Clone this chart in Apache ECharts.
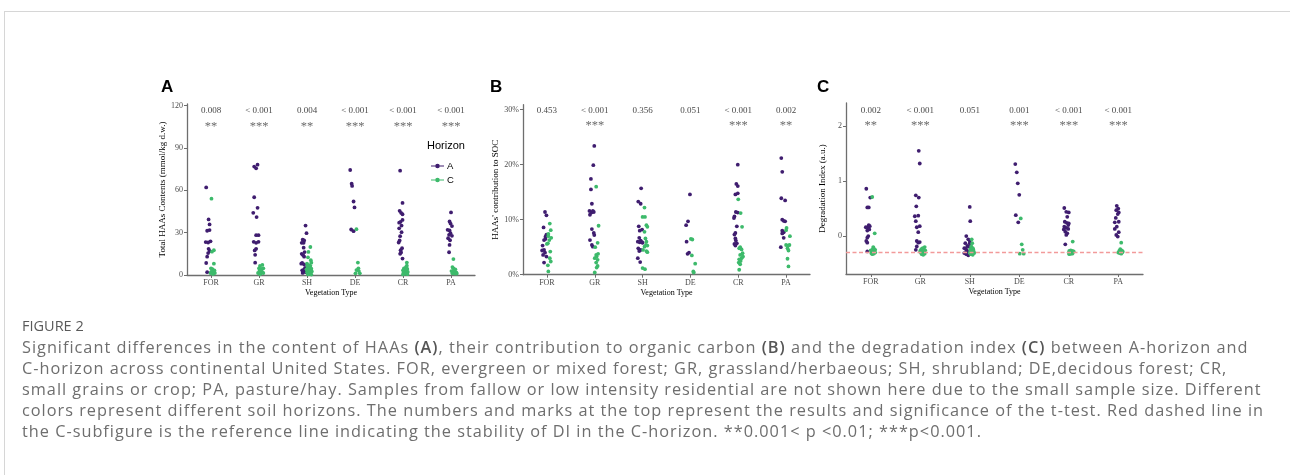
<!DOCTYPE html>
<html>
<head>
<meta charset="utf-8">
<script src="https://cdn.jsdelivr.net/npm/echarts@6/dist/echarts.min.js"></script>
<style>
  body { margin: 0; background: #fff; width: 1290px; height: 475px; overflow: hidden; position: relative; }
  #frame { position: absolute; left: 4px; top: 11px; width: 1300px; height: 480px; border-top: 1px solid #d6d6d6; border-left: 1px solid #d6d6d6; }
  #chart { position: absolute; left: 0; top: 0; width: 1290px; height: 475px; }
  #caption { position: absolute; left: 22px; top: 315px; color: #6e6e6e; font-family: "Open Sans", sans-serif; font-size: 16.3px; letter-spacing: 1px; line-height: 21px; white-space: nowrap; }
  #caption .fig { font-size: 14.5px; letter-spacing: 0; color: #5a5a5a; margin-bottom: 1px; }
  #caption b { color: #555; font-weight: 600; }
</style>
</head>
<body>
<div id="frame"></div>
<div id="chart"></div>
<div id="caption">
  <div class="fig">FIGURE 2</div>
  Significant differences in the content of HAAs <b>(A)</b>, their contribution to organic carbon <b>(B)</b> and the degradation index <b>(C)</b> between A-horizon and<br>
  C-horizon across continental United States. FOR, evergreen or mixed forest; GR, grassland/herbaeous; SH, shrubland; DE,decidous forest; CR,<br>
  small grains or crop; PA, pasture/hay. Samples from fallow or low intensity residential are not shown here due to the small sample size. Different<br>
  colors represent different soil horizons. The numbers and marks at the top represent the results and significance of the t-test. Red dashed line in<br>
  the C-subfigure is the reference line indicating the stability of DI in the C-horizon. **0.001&lt; p &lt;0.01; ***p&lt;0.001.
</div>
<script>
// vegetation types, x = index (1..6) + jitter
const categories = ["FOR", "GR", "SH", "DE", "CR", "PA"];

// panel A: total HAAs contents (mmol/kg d.w.)
const haaA = [
  [0.90,62],[0.95,39.3],[0.97,35.8],[0.92,31.3],[0.97,31.8],[0.89,23.3],[0.94,23],[0.99,23.8],[0.95,18.5],[0.97,17],[0.94,15.5],[0.92,13],[0.90,8.5],[0.92,2],
  [1.90,76.7],[1.97,78.1],[1.94,75.5],[1.90,55],[1.97,47.5],[1.88,44],[1.95,41],[1.94,28.2],[1.99,28.2],[1.89,23.5],[1.94,22.8],[1.99,23.5],[1.94,18.5],[1.91,17.4],[1.92,14.3],[1.92,8.7],
  [2.97,35],[2.99,29.6],[2.91,25],[2.94,24.5],[2.89,22.8],[2.93,22.8],[2.93,19.3],[2.95,16.2],[2.89,15],[2.92,14],[2.94,13],[2.90,8.5],[2.88,8],[2.94,7.5],[2.96,5],[2.94,4],[2.90,3.3],[2.92,2.5],[2.97,2],[2.91,1.5],
  [3.90,74.3],[3.93,64.6],[3.94,63],[3.97,52],[3.99,47.8],[3.92,32.2],[3.97,31],
  [4.94,73.8],[4.99,51],[4.93,45.4],[4.96,44],[4.99,43],[4.99,39],[4.95,37.6],[4.92,37],[4.97,35],[4.92,33],[4.97,30.3],[4.94,27.5],[4.93,24.4],[4.91,23],[4.98,19],[4.95,17.5],[4.96,16],[4.94,15],[4.99,11.6],
  [6.00,44.3],[5.97,37.9],[5.99,36.4],[6.02,34.6],[5.93,32],[5.97,31.5],[5.99,29.6],[5.96,28.4],[6.02,27.7],[5.94,26],[5.98,24.6],[5.97,21.3],[5.96,16.1]
];
const haaC = [
  [1.01,54],[1.06,17.5],[1.02,16.5],[1.06,8],[1.00,4.7],[1.03,4.2],[1.07,3.3],[1.01,2.4],[1.06,1.9],[0.99,1.4],[1.08,1.4],[1.04,0.7],
  [2.02,6.4],[2.07,7.1],[2.00,4.7],[2.05,4.3],[2.09,4.7],[2.01,2.8],[2.06,2.4],[1.98,1.4],[2.04,1.2],[2.09,1.4],[2.02,0.5],[2.03,3.5],
  [3.07,19.8],[3.03,16.3],[3.02,12.5],[3.08,10.5],[3.09,8.7],[3.00,8],[3.04,7],[3.07,6.5],[3.01,6],[3.05,5],[3.09,4.5],[2.99,4],[3.03,3.5],[3.06,3],[3.10,2.5],[3.00,2],[3.04,1.5],[3.07,1],[3.02,0.5],[3.09,0.3],
  [4.03,32.4],[4.06,8.8],[4.07,4.7],[4.03,3.5],[4.08,2.8],[4.01,1.2],[4.10,1.2],
  [5.08,8.8],[5.08,6.6],[5.06,5.5],[5.02,4.7],[5.09,4.3],[5.04,3.8],[5.00,3.3],[5.07,3.0],[5.03,2.6],[5.10,2.2],[5.05,2.0],[5.01,1.6],[5.07,1.2],[5.04,1.0],[5.09,0.6],[5.00,0.4],
  [6.05,11.3],[6.03,5.6],[6.05,4.7],[6.09,4],[6.01,2.8],[6.06,2.4],[6.11,1.9],[6.03,1.2],[6.08,1.0],[6.12,1.0]
];
const haaP = ["0.008", "< 0.001", "0.004", "< 0.001", "< 0.001", "< 0.001"];
const haaStars = ["**", "***", "**", "***", "***", "***"];

// panel B: HAAs' contribution to SOC (%)
const socA = [
  [0.96,11.4],[0.99,10.8],[0.93,8.6],[0.99,7.3],[0.97,6.9],[0.94,6.3],[0.97,6.5],[0.91,5.3],[0.90,4.4],[0.94,4.5],[0.96,4.0],[0.92,3.6],[0.99,3.3],[0.94,2.2],
  [1.99,23.4],[1.97,19.9],[1.92,17.4],[1.92,15.5],[1.94,12.9],[1.89,11.6],[1.93,11.3],[1.96,11.6],[1.98,11.4],[1.90,10.9],[1.94,8.3],[1.98,7.6],[1.99,7.2],[1.90,6.3],[1.94,5.4],[1.96,5.1],
  [2.97,15.7],[2.91,13.3],[2.96,12.9],[2.92,8.8],[2.99,8.2],[2.94,8.0],[2.93,6.7],[2.96,6.2],[2.99,5.9],[2.94,5.9],[2.90,6.0],[3.00,5.8],[2.91,4.8],[2.96,4.5],[2.93,4.3],[2.90,3.0],[2.95,2.3],
  [3.99,14.6],[3.95,9.7],[3.91,9.0],[3.92,6.0],[3.97,4.0],[3.94,3.8],
  [4.99,20.0],[4.96,16.5],[4.99,16.1],[4.94,14.6],[4.99,14.8],[4.95,11.4],[4.99,11.3],[4.92,10.6],[4.91,10.3],[4.97,8.8],[4.94,7.6],[4.92,7.3],[4.94,6.6],[4.95,6.2],[4.92,5.6],[4.97,5.7],[4.94,5.3],
  [5.90,21.2],[5.92,18.7],[5.90,13.9],[5.98,13.5],[5.92,10.0],[5.95,9.8],[5.98,9.7],[5.92,8.0],[5.95,7.7],[5.92,7.5],[5.95,6.7],[5.89,5.0]
];
const socC = [
  [1.06,9.3],[1.08,8.1],[1.03,7.4],[1.09,6.7],[1.05,6.3],[1.02,5.7],[1.00,5.6],[1.07,4.2],[1.06,3.0],[1.08,2.4],[1.02,1.7],[1.03,0.6],[1.03,7.0],
  [2.03,16.0],[2.08,8.9],[2.06,5.8],[2.01,5.0],[2.03,3.6],[2.07,3.8],[2.04,3.3],[2.00,3.0],[2.06,2.7],[2.03,2.2],[2.06,1.6],[2.04,1.3],[2.00,0.4],
  [3.04,12.2],[3.00,10.5],[3.05,10.5],[3.08,9.0],[3.10,8.7],[3.04,7.8],[3.06,6.6],[3.07,5.4],[3.04,5.1],[3.10,5.3],[3.01,4.5],[3.08,4.3],[3.10,4.1],[3.00,1.2],[3.05,1.0],[3.08,6.0],
  [4.01,6.5],[4.04,6.4],[4.03,3.5],[4.10,2.0],[4.06,0.6],[4.07,0.4],
  [5.00,13.7],[5.05,11.2],[5.08,8.7],[5.04,5.0],[5.07,4.6],[5.02,4.8],[5.09,3.9],[5.04,3.6],[5.07,3.0],[5.02,2.8],[5.05,2.5],[5.01,2.2],[5.04,1.9],[5.02,0.9],[5.10,3.3],
  [6.01,8.5],[6.00,8.1],[6.08,7.0],[6.00,5.4],[6.04,5.3],[6.07,5.4],[6.03,4.8],[6.05,4.4],[6.03,2.9],[6.05,1.5]
];
const socP = ["0.453", "< 0.001", "0.356", "0.051", "< 0.001", "0.002"];
const socStars = ["", "***", "", "", "***", "**"];

// panel C: degradation index (a.u.)
const diA = [
  [0.91,0.86],[0.99,0.70],[0.93,0.52],[0.96,0.52],[0.96,0.20],[0.94,0.16],[0.90,0.16],[0.98,0.18],[0.97,0.12],[0.93,0.10],[0.95,0.0],[0.93,-0.03],[0.91,-0.09],[0.93,-0.12],[0.93,-0.28],
  [1.97,1.55],[1.99,1.32],[1.91,0.74],[1.97,0.70],[1.92,0.54],[1.89,0.36],[1.96,0.37],[1.91,0.27],[1.99,0.18],[1.93,0.16],[1.96,0.07],[1.93,-0.09],[1.96,-0.12],[1.99,-0.11],[1.93,-0.19],[1.91,-0.25],
  [3.00,0.53],[3.01,0.27],[2.93,0.0],[2.97,-0.06],[3.00,-0.09],[2.91,-0.13],[2.95,-0.18],[2.98,-0.19],[2.89,-0.22],[2.93,-0.25],[2.95,-0.28],[2.89,-0.31],[2.93,-0.33],[2.97,-0.35],[3.00,-0.13],[2.92,-0.23],
  [3.92,1.31],[3.95,1.16],[3.97,0.96],[4.00,0.75],[3.93,0.38],[3.98,0.25],
  [4.91,0.51],[4.95,0.44],[5.00,0.43],[4.97,0.35],[4.92,0.26],[4.96,0.24],[5.00,0.23],[4.91,0.17],[4.95,0.15],[4.99,0.13],[4.93,0.08],[4.97,0.05],[4.95,0.02],[4.93,-0.15],[4.99,0.20],[4.90,0.12],
  [5.97,0.55],[6.00,0.50],[5.96,0.47],[6.01,0.43],[5.95,0.33],[6.01,0.26],[5.93,0.25],[5.97,0.17],[5.93,0.13],[6.01,0.07],[5.96,0.02],[5.99,-0.01],[5.99,0.40]
];
const diC = [
  [1.03,0.71],[1.08,0.05],[1.05,-0.20],[1.06,-0.22],[1.04,-0.24],[1.09,-0.25],[1.00,-0.26],[1.02,-0.27],[1.07,-0.28],[1.04,-0.29],[1.09,-0.30],[1.01,-0.31],[1.06,-0.32],[1.03,-0.33],
  [2.09,-0.20],[2.05,-0.22],[2.02,-0.24],[2.07,-0.25],[2.10,-0.26],[2.00,-0.27],[2.04,-0.28],[2.08,-0.29],[2.02,-0.30],[2.06,-0.31],[2.09,-0.32],[2.03,-0.33],[2.06,-0.34],[2.00,-0.29],[2.05,-0.27],
  [3.04,-0.06],[3.05,-0.13],[3.03,-0.19],[3.01,-0.24],[3.07,-0.24],[3.04,-0.27],[3.08,-0.28],[3.00,-0.30],[3.05,-0.31],[3.09,-0.31],[3.02,-0.33],[3.06,-0.34],[3.06,-0.22],
  [4.03,0.32],[4.05,-0.15],[4.07,-0.25],[4.01,-0.32],[4.09,-0.32],
  [5.08,-0.10],[5.04,-0.26],[5.01,-0.27],[5.07,-0.27],[5.10,-0.28],[5.03,-0.29],[5.06,-0.29],[5.00,-0.30],[5.05,-0.30],[5.08,-0.31],[5.02,-0.31],[5.04,-0.32],[5.07,-0.32],[5.01,-0.33],
  [6.06,-0.12],[6.04,-0.24],[6.07,-0.26],[6.02,-0.27],[6.09,-0.28],[6.05,-0.29],[6.00,-0.30],[6.08,-0.30],[6.03,-0.31],[6.06,-0.32]
];
const diP = ["0.002", "< 0.001", "0.051", "0.001", "< 0.001", "< 0.001"];
const diStars = ["**", "***", "", "***", "***", "***"];
const diReference = -0.3;

const purple = "#3f1d6f";
const green = "#3dba6b";
const serif = "Liberation Serif";
const axisGray = "#6e6e6e";

// panel settings: y range, ticks, and the y of the p-value / star rows
const panels = [
  { A: haaA, C: haaC, p: haaP, stars: haaStars, min: 0, max: 121, ticks: [0, 30, 60, 90, 120],
    pY: 116.4, starY: 105.1, name: "Total HAAs Contents (mmol/kg d.w.)", fmt: v => String(v),
    grid: { left: 187, top: 104, width: 288, height: 171 } },
  { A: socA, C: socC, p: socP, stars: socStars, min: 0, max: 30.9, ticks: [0, 10, 20, 30],
    pY: 29.9, starY: 27.0, name: "HAAs' contribution to SOC", fmt: v => v + "%",
    grid: { left: 523, top: 104.7, width: 287, height: 170 } },
  { A: diA, C: diC, p: diP, stars: diStars, min: -0.69, max: 2.42, ticks: [0, 1, 2],
    pY: 2.29, starY: 2.01, name: "Degradation Index (a.u.)", fmt: v => String(v),
    grid: { left: 846, top: 103, width: 297, height: 171 } }
];

const grids = [], xAxes = [], yAxes = [], series = [];
const catX = categories.map((c, i) => i + 1);

panels.forEach((p, k) => {
  grids.push(Object.assign({ outerBoundsMode: "none", containLabel: false }, p.grid));
  xAxes.push({
    type: "value", gridIndex: k, min: 0.5, max: 6.5,
    name: "Vegetation Type", nameLocation: "middle", nameGap: 14,
    nameTextStyle: { fontFamily: serif, fontSize: 8, color: "#000" },
    axisLine: { onZero: false, lineStyle: { color: axisGray, width: 1.3 } },
    axisTick: { length: 3, lineStyle: { color: axisGray }, customValues: catX },
    axisLabel: { customValues: catX, margin: 4, fontFamily: serif, fontSize: 8, color: "#4d4d4d",
      formatter: v => categories[Math.round(v) - 1] || "" },
    splitLine: { show: false }
  });
  yAxes.push({
    type: "value", gridIndex: k, min: p.min, max: p.max,
    name: p.name, nameLocation: "middle", nameGap: 19,
    nameTextStyle: { fontFamily: serif, fontSize: 9, color: "#000" },
    axisLine: { show: true, onZero: false, lineStyle: { color: axisGray, width: 1.3 } },
    axisTick: { show: true, length: 3, lineStyle: { color: axisGray }, customValues: p.ticks },
    axisLabel: { customValues: p.ticks, margin: 4, fontFamily: serif, fontSize: 8, color: "#4d4d4d",
      formatter: p.fmt },
    splitLine: { show: false }
  });
  const dot = (name, data, color) => ({
    name, type: "scatter", xAxisIndex: k, yAxisIndex: k, data,
    symbolSize: 3.8, itemStyle: { color, opacity: 1 }, silent: true, z: name === "C" ? 3 : 2
  });
  const sA = dot("A", p.A, purple);
  const sC = dot("C", p.C, green);
  if (k === 2) {
    sC.markLine = {
      silent: true, symbol: "none", label: { show: false },
      lineStyle: { color: "#f29a9a", type: [4, 2.5], width: 1.3 },
      data: [{ yAxis: diReference }]
    };
  }
  series.push(sA, sC);
  const textRow = (labels, y, color, size) => ({
    type: "scatter", xAxisIndex: k, yAxisIndex: k, silent: true,
    symbolSize: 1, itemStyle: { color: "transparent" },
    data: catX.map(x => [x, y]),
    label: { show: true, position: "inside", fontFamily: serif, fontSize: size, color,
      formatter: params => labels[params.dataIndex] }
  });
  series.push(textRow(p.p, p.pY, "#111", 9));
  series.push(textRow(p.stars, p.starY, "#444", 12.5));
});

const legendIcon = "path://M0,4.4 H20 V5.6 H0 Z M13.5,5 A3.5,3.5 0 1 1 6.5,5 A3.5,3.5 0 1 1 13.5,5 Z";
const panelLetter = (text, x) => ({
  type: "text", left: x, top: 79,
  style: { text, font: "bold 17px 'Liberation Sans'", fill: "#000" }
});

const chart = echarts.init(document.getElementById("chart"), null, { renderer: "canvas" });
chart.setOption({
  animation: false,
  grid: grids,
  xAxis: xAxes,
  yAxis: yAxes,
  series,
  legend: {
    data: [{ name: "A", itemStyle: { color: purple } }, { name: "C", itemStyle: { color: green } }],
    orient: "vertical", left: 426, top: 156, itemGap: 4,
    itemWidth: 13, itemHeight: 6, icon: legendIcon,
    textStyle: { fontFamily: "Liberation Sans", fontSize: 9.5, color: "#000", padding: [0, 0, 0, -2] },
    selectedMode: false
  },
  graphic: [
    panelLetter("A", 161),
    panelLetter("B", 490),
    panelLetter("C", 817),
    { type: "text", left: 427, top: 140,
      style: { text: "Horizon", font: "11px 'Liberation Sans'", fill: "#000" } }
  ]
});
</script>
</body>
</html>
